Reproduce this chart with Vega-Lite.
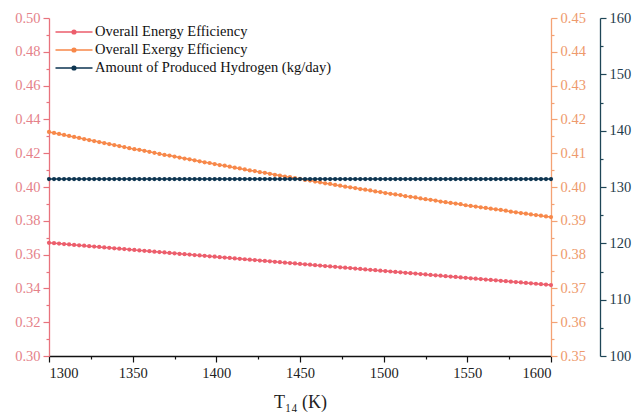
{
  "$schema": "https://vega.github.io/schema/vega-lite/v6.json",
  "width": 502,
  "height": 338,
  "autosize": {"type": "none"},
  "padding": {"left": 49, "top": 18, "right": 87, "bottom": 62},
  "background": "white",
  "config": {
    "view": {"stroke": null},
    "font": "Times New Roman",
    "axis": {"grid": false, "labelFont": "Times New Roman", "titleFont": "Times New Roman", "labelFontSize": 14.5, "domainWidth": 1.3, "tickWidth": 1.2, "labelOverlap": false},
    "legend": {"labelFont": "Times New Roman"}
  },
  "data": {"values": [
    {"T":1300,"energy":0.367,"exergy":0.4163,"hydrogen":131.4},
    {"T":1303,"energy":0.36675,"exergy":0.4160,"hydrogen":131.4},
    {"T":1306,"energy":0.3665,"exergy":0.4157,"hydrogen":131.4},
    {"T":1309,"energy":0.36625,"exergy":0.4154,"hydrogen":131.4},
    {"T":1312,"energy":0.366,"exergy":0.4151,"hydrogen":131.4},
    {"T":1315,"energy":0.36575,"exergy":0.4148,"hydrogen":131.4},
    {"T":1318,"energy":0.3655,"exergy":0.4145,"hydrogen":131.4},
    {"T":1321,"energy":0.36525,"exergy":0.4142,"hydrogen":131.4},
    {"T":1324,"energy":0.365,"exergy":0.4139,"hydrogen":131.4},
    {"T":1327,"energy":0.36475,"exergy":0.4136,"hydrogen":131.4},
    {"T":1330,"energy":0.3645,"exergy":0.4133,"hydrogen":131.4},
    {"T":1333,"energy":0.36425,"exergy":0.4130,"hydrogen":131.4},
    {"T":1336,"energy":0.364,"exergy":0.4127,"hydrogen":131.4},
    {"T":1339,"energy":0.36375,"exergy":0.4124,"hydrogen":131.4},
    {"T":1342,"energy":0.3635,"exergy":0.4121,"hydrogen":131.4},
    {"T":1345,"energy":0.36325,"exergy":0.4118,"hydrogen":131.4},
    {"T":1348,"energy":0.363,"exergy":0.4115,"hydrogen":131.4},
    {"T":1351,"energy":0.36275,"exergy":0.4112,"hydrogen":131.4},
    {"T":1354,"energy":0.3625,"exergy":0.4110,"hydrogen":131.4},
    {"T":1357,"energy":0.36225,"exergy":0.4107,"hydrogen":131.4},
    {"T":1360,"energy":0.362,"exergy":0.4104,"hydrogen":131.4},
    {"T":1363,"energy":0.36175,"exergy":0.4101,"hydrogen":131.4},
    {"T":1366,"energy":0.3615,"exergy":0.4098,"hydrogen":131.4},
    {"T":1369,"energy":0.36125,"exergy":0.4095,"hydrogen":131.4},
    {"T":1372,"energy":0.361,"exergy":0.4093,"hydrogen":131.4},
    {"T":1375,"energy":0.36075,"exergy":0.4090,"hydrogen":131.4},
    {"T":1378,"energy":0.3605,"exergy":0.4087,"hydrogen":131.4},
    {"T":1381,"energy":0.36025,"exergy":0.4084,"hydrogen":131.4},
    {"T":1384,"energy":0.360,"exergy":0.4082,"hydrogen":131.4},
    {"T":1387,"energy":0.35975,"exergy":0.4079,"hydrogen":131.4},
    {"T":1390,"energy":0.3595,"exergy":0.4076,"hydrogen":131.4},
    {"T":1393,"energy":0.35925,"exergy":0.4073,"hydrogen":131.4},
    {"T":1396,"energy":0.359,"exergy":0.4071,"hydrogen":131.4},
    {"T":1399,"energy":0.35875,"exergy":0.4068,"hydrogen":131.4},
    {"T":1402,"energy":0.3585,"exergy":0.4065,"hydrogen":131.4},
    {"T":1405,"energy":0.35825,"exergy":0.4063,"hydrogen":131.4},
    {"T":1408,"energy":0.358,"exergy":0.4060,"hydrogen":131.4},
    {"T":1411,"energy":0.35775,"exergy":0.4057,"hydrogen":131.4},
    {"T":1414,"energy":0.3575,"exergy":0.4055,"hydrogen":131.4},
    {"T":1417,"energy":0.35725,"exergy":0.4052,"hydrogen":131.4},
    {"T":1420,"energy":0.357,"exergy":0.4049,"hydrogen":131.4},
    {"T":1423,"energy":0.35675,"exergy":0.4047,"hydrogen":131.4},
    {"T":1426,"energy":0.3565,"exergy":0.4044,"hydrogen":131.4},
    {"T":1429,"energy":0.35625,"exergy":0.4042,"hydrogen":131.4},
    {"T":1432,"energy":0.356,"exergy":0.4039,"hydrogen":131.4},
    {"T":1435,"energy":0.35575,"exergy":0.4036,"hydrogen":131.4},
    {"T":1438,"energy":0.3555,"exergy":0.4034,"hydrogen":131.4},
    {"T":1441,"energy":0.35525,"exergy":0.4031,"hydrogen":131.4},
    {"T":1444,"energy":0.355,"exergy":0.4029,"hydrogen":131.4},
    {"T":1447,"energy":0.35475,"exergy":0.4026,"hydrogen":131.4},
    {"T":1450,"energy":0.3545,"exergy":0.4024,"hydrogen":131.4},
    {"T":1453,"energy":0.35425,"exergy":0.4021,"hydrogen":131.4},
    {"T":1456,"energy":0.354,"exergy":0.4019,"hydrogen":131.4},
    {"T":1459,"energy":0.35375,"exergy":0.4016,"hydrogen":131.4},
    {"T":1462,"energy":0.3535,"exergy":0.4014,"hydrogen":131.4},
    {"T":1465,"energy":0.35325,"exergy":0.4011,"hydrogen":131.4},
    {"T":1468,"energy":0.353,"exergy":0.4009,"hydrogen":131.4},
    {"T":1471,"energy":0.35275,"exergy":0.4006,"hydrogen":131.4},
    {"T":1474,"energy":0.3525,"exergy":0.4004,"hydrogen":131.4},
    {"T":1477,"energy":0.35225,"exergy":0.4001,"hydrogen":131.4},
    {"T":1480,"energy":0.352,"exergy":0.3999,"hydrogen":131.4},
    {"T":1483,"energy":0.35175,"exergy":0.3997,"hydrogen":131.4},
    {"T":1486,"energy":0.3515,"exergy":0.3994,"hydrogen":131.4},
    {"T":1489,"energy":0.35125,"exergy":0.3992,"hydrogen":131.4},
    {"T":1492,"energy":0.351,"exergy":0.3990,"hydrogen":131.4},
    {"T":1495,"energy":0.35075,"exergy":0.3987,"hydrogen":131.4},
    {"T":1498,"energy":0.3505,"exergy":0.3985,"hydrogen":131.4},
    {"T":1501,"energy":0.35025,"exergy":0.3982,"hydrogen":131.4},
    {"T":1504,"energy":0.350,"exergy":0.3980,"hydrogen":131.4},
    {"T":1507,"energy":0.34975,"exergy":0.3978,"hydrogen":131.4},
    {"T":1510,"energy":0.3495,"exergy":0.3976,"hydrogen":131.4},
    {"T":1513,"energy":0.34925,"exergy":0.3973,"hydrogen":131.4},
    {"T":1516,"energy":0.349,"exergy":0.3971,"hydrogen":131.4},
    {"T":1519,"energy":0.34875,"exergy":0.3969,"hydrogen":131.4},
    {"T":1522,"energy":0.3485,"exergy":0.3966,"hydrogen":131.4},
    {"T":1525,"energy":0.34825,"exergy":0.3964,"hydrogen":131.4},
    {"T":1528,"energy":0.348,"exergy":0.3962,"hydrogen":131.4},
    {"T":1531,"energy":0.34775,"exergy":0.3960,"hydrogen":131.4},
    {"T":1534,"energy":0.3475,"exergy":0.3957,"hydrogen":131.4},
    {"T":1537,"energy":0.34725,"exergy":0.3955,"hydrogen":131.4},
    {"T":1540,"energy":0.347,"exergy":0.3953,"hydrogen":131.4},
    {"T":1543,"energy":0.34675,"exergy":0.3951,"hydrogen":131.4},
    {"T":1546,"energy":0.3465,"exergy":0.3949,"hydrogen":131.4},
    {"T":1549,"energy":0.34625,"exergy":0.3946,"hydrogen":131.4},
    {"T":1552,"energy":0.346,"exergy":0.3944,"hydrogen":131.4},
    {"T":1555,"energy":0.34575,"exergy":0.3942,"hydrogen":131.4},
    {"T":1558,"energy":0.3455,"exergy":0.3940,"hydrogen":131.4},
    {"T":1561,"energy":0.34525,"exergy":0.3938,"hydrogen":131.4},
    {"T":1564,"energy":0.345,"exergy":0.3936,"hydrogen":131.4},
    {"T":1567,"energy":0.34475,"exergy":0.3934,"hydrogen":131.4},
    {"T":1570,"energy":0.3445,"exergy":0.3932,"hydrogen":131.4},
    {"T":1573,"energy":0.34425,"exergy":0.3930,"hydrogen":131.4},
    {"T":1576,"energy":0.344,"exergy":0.3927,"hydrogen":131.4},
    {"T":1579,"energy":0.34375,"exergy":0.3925,"hydrogen":131.4},
    {"T":1582,"energy":0.3435,"exergy":0.3923,"hydrogen":131.4},
    {"T":1585,"energy":0.34325,"exergy":0.3921,"hydrogen":131.4},
    {"T":1588,"energy":0.343,"exergy":0.3919,"hydrogen":131.4},
    {"T":1591,"energy":0.34275,"exergy":0.3917,"hydrogen":131.4},
    {"T":1594,"energy":0.3425,"exergy":0.3915,"hydrogen":131.4},
    {"T":1597,"energy":0.34225,"exergy":0.3913,"hydrogen":131.4},
    {"T":1600,"energy":0.342,"exergy":0.3911,"hydrogen":131.4}
  ]},
  "encoding": {
    "x": {
      "field": "T", "type": "quantitative",
      "scale": {"domain": [1300, 1600], "nice": false, "zero": false},
      "axis": {
        "values": [1300,1325,1350,1375,1400,1425,1450,1475,1500,1525,1550,1575,1600],
        "labelExpr": "datum.value % 50 == 0 ? format(datum.value, 'd') : ''",
        "tickSize": {"condition": {"test": "datum.value % 50 == 0", "value": 6}, "value": 3},
        "domainColor": "#111111", "tickColor": "#111111", "labelColor": "#222222",
        "labelPadding": 4, "labelFont": "Times New Roman",
        "title": "T₁₄ (K)", "titleFont": "Times New Roman", "titleFontSize": 18, "titleFontWeight": "normal", "titleColor": "#222222", "titlePadding": 14
      }
    }
  },
  "layer": [
    {
      "mark": {"type": "line", "strokeWidth": 1.5, "point": {"filled": true, "size": 18}},
      "encoding": {
        "y": {
          "field": "energy", "type": "quantitative",
          "scale": {"domain": [0.30, 0.50], "nice": false, "zero": false},
          "axis": {
            "orient": "left", "title": null, "labelFont": "Times New Roman",
            "values": [0.30,0.31,0.32,0.33,0.34,0.35,0.36,0.37,0.38,0.39,0.40,0.41,0.42,0.43,0.44,0.45,0.46,0.47,0.48,0.49,0.50],
            "labelExpr": "round(datum.value*100) % 2 == 0 ? format(datum.value, '.2f') : ''",
            "tickSize": {"condition": {"test": "round(datum.value*100) % 2 == 0", "value": 6}, "value": 3},
            "domainColor": "#E8737D", "tickColor": "#E8737D", "labelColor": "#E5828A", "labelPadding": 3
          }
        },
        "color": {
          "datum": "Overall Energy Efficiency", "type": "nominal",
          "scale": {"domain": ["Overall Energy Efficiency", "Overall Exergy Efficiency", "Amount of Produced Hydrogen (kg/day)"], "range": ["#EC5E6C", "#F7884A", "#0D3551"]},
          "legend": {
            "orient": "none", "legendX": 14, "legendY": 3, "title": null,
            "symbolType": "M-1.85,0L1.85,0M-0.18,0A0.18,0.18,0,1,0,0.18,0A0.18,0.18,0,1,0,-0.18,0",
            "symbolSize": 400, "symbolStrokeWidth": 1.6,
            "labelFont": "Times New Roman", "labelFontSize": 14.5, "labelColor": "#111111",
            "labelOffset": 10, "rowPadding": 0, "labelLimit": 0
          }
        }
      }
    },
    {
      "mark": {"type": "line", "strokeWidth": 1.5, "point": {"filled": true, "size": 18}},
      "encoding": {
        "y": {
          "field": "exergy", "type": "quantitative",
          "scale": {"domain": [0.35, 0.45], "nice": false, "zero": false},
          "axis": {
            "orient": "right", "title": null, "labelFont": "Times New Roman",
            "values": [0.35,0.355,0.36,0.365,0.37,0.375,0.38,0.385,0.39,0.395,0.40,0.405,0.41,0.415,0.42,0.425,0.43,0.435,0.44,0.445,0.45],
            "labelExpr": "round(datum.value*1000) % 10 == 0 ? format(datum.value, '.2f') : ''",
            "tickSize": {"condition": {"test": "round(datum.value*1000) % 10 == 0", "value": 6}, "value": 3},
            "domainColor": "#F4A274", "tickColor": "#F4A274", "labelColor": "#EE9A6C", "labelPadding": 3
          }
        },
        "color": {"datum": "Overall Exergy Efficiency", "type": "nominal"}
      }
    },
    {
      "mark": {"type": "line", "strokeWidth": 1.5, "point": {"filled": true, "size": 18}},
      "encoding": {
        "y": {
          "field": "hydrogen", "type": "quantitative",
          "scale": {"domain": [100, 160], "nice": false, "zero": false},
          "axis": {
            "orient": "right", "offset": 49, "title": null, "labelFont": "Times New Roman",
            "values": [100,105,110,115,120,125,130,135,140,145,150,155,160],
            "labelExpr": "datum.value % 10 == 0 ? format(datum.value, 'd') : ''",
            "tickSize": {"condition": {"test": "datum.value % 10 == 0", "value": 6}, "value": 3},
            "domainColor": "#1F4657", "tickColor": "#1F4657", "labelColor": "#1F3C4C", "labelPadding": 3
          }
        },
        "color": {"datum": "Amount of Produced Hydrogen (kg/day)", "type": "nominal"}
      }
    }
  ],
  "resolve": {"scale": {"y": "independent", "color": "shared"}, "axis": {"y": "independent"}}
}
